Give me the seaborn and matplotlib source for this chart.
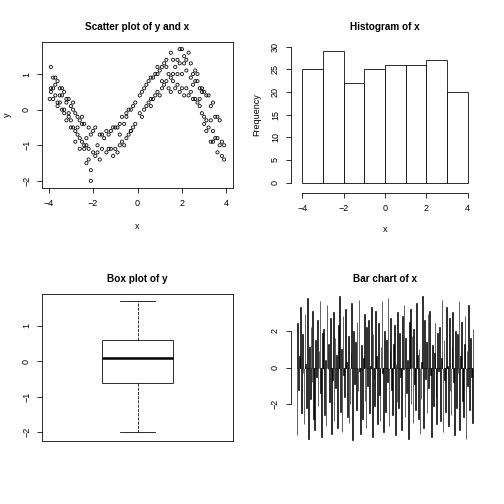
import matplotlib
matplotlib.use("Agg")
import matplotlib.pyplot as plt
import seaborn as sns
import numpy as np
import pandas as pd

x = [-3.7,2.4,-1.2,0.6,3.3,-2.5,1.8,-0.3,-3.1,2.9,
0.2,-2.2,3.8,-3.9,1.1,-1.7,2.2,-0.8,3.1,-2.8,
-3.4,1.5,-0.5,2.6,-2.1,0.9,3.6,-1.4,-3.8,1.9,
2.1,-2.6,0.4,-3.2,3.4,-0.1,1.3,-1.9,2.7,-3.6,
-0.7,3.0,-2.9,1.6,-1.1,0.7,-3.3,2.3,3.9,-2.4,
1.0,-3.5,2.8,-0.4,-1.6,3.2,0.3,-2.7,1.7,-3.0,
-2.0,0.8,3.5,-3.95,2.0,-0.9,1.4,-2.3,2.5,-1.3,
3.7,-0.2,-3.6,1.2,-2.8,0.5,2.9,-1.8,-3.3,2.2,
-1.0,2.6,-2.5,0.1,3.3,-3.8,1.8,-0.6,-2.1,3.1,
0.6,-3.1,2.4,-1.5,-2.9,1.1,3.6,-0.3,-3.5,2.0,
-2.4,1.5,-0.8,3.8,-3.2,0.9,2.7,-1.2,-2.6,1.3,
2.3,-3.7,0.2,-1.9,3.0,-2.2,1.9,-0.5,-3.4,2.8,
-0.1,3.4,-2.7,1.6,-1.4,0.4,-3.9,2.5,3.2,-2.0,
1.7,-3.0,2.1,-0.9,-2.3,3.5,0.7,-2.8,1.0,-3.6,
-1.7,0.3,3.9,-3.3,2.6,-0.6,1.4,-2.5,2.9,-1.1,
3.1,-0.4,-3.8,1.2,-2.1,0.8,2.4,-1.6,-3.1,1.9,
-0.2,2.2,-2.9,0.5,3.7,-3.5,1.5,-0.7,-2.4,3.3,
0.1,-3.2,2.7,-1.3,-2.6,1.1,3.0,-0.8,-3.7,2.0,
-2.2,1.8,-0.3,3.6,-3.4,0.6,2.5,-1.8,-2.7,1.3,
2.8,-3.9,0.9,-1.0,3.4,-2.3,1.6,-0.5,-3.0,2.1]

y = [0.7,0.9,-1.1,0.3,0.1,-0.4,1.4,-0.6,-0.2,0.6,
0.5,-1.4,-1.3,1.2,0.6,-0.7,1.1,-1.0,-0.3,-0.1,
0.4,1.6,-0.2,0.8,-2.0,1.0,-0.8,-1.2,0.3,0.5,
1.3,-0.8,0.1,0.3,-0.6,0.2,1.2,-0.5,0.2,0.8,
-0.9,0.5,0.2,0.8,-1.3,0.9,-0.1,1.6,-1.0,-1.1,
1.1,0.6,0.1,-0.7,-1.1,0.4,0.6,-0.2,1.2,0.1,
-0.6,0.4,-0.2,0.3,1.7,-1.2,1.0,-1.5,1.0,-0.7,
-1.0,0.1,0.1,0.7,-0.6,0.8,-0.1,-1.0,0.5,0.6,
-0.5,0.3,-0.9,-0.1,-0.3,0.9,0.7,-0.4,-1.7,0.4,
0.9,0.3,1.3,-0.8,-0.5,1.2,-0.2,0.0,0.2,1.0,
-0.4,0.9,-0.4,-0.9,-0.3,0.5,0.8,-0.6,-1.1,1.4,
0.4,0.4,-0.2,-1.3,-0.2,-0.5,1.3,-0.8,0.6,0.6,
-0.4,0.2,-0.7,1.4,-0.6,0.7,0.5,0.3,-0.5,-1.2,
0.6,-0.3,0.4,-0.5,-1.0,-0.8,0.3,-0.9,0.4,0.2,
-1.4,0.0,-1.4,0.0,1.1,-1.0,0.6,-0.2,0.5,-0.5,
-0.6,0.0,0.6,1.3,-0.7,1.0,0.5,-0.7,-0.1,1.7,
-0.5,1.4,0.0,0.2,-0.3,0.4,0.5,-0.2,-1.0,-0.9,
0.4,0.2,1.0,-1.1,-0.3,0.8,-0.4,-0.7,0.9,0.6,
-1.1,1.0,-0.6,-1.2,0.0,0.1,0.7,-1.2,-0.5,0.8,
0.3,0.6,1.2,-1.1,-0.9,-0.8,1.0,-0.1,-0.5,1.5]

hist_edges = [-4, -3, -2, -1, 0, 1, 2, 3, 4]
hist_counts = [25, 29, 22, 25, 26, 26, 27, 20]

W = 504
fig = plt.figure(figsize=(7, 7), dpi=72)
plt.rcParams['font.family'] = ['Liberation Sans', 'DejaVu Sans']

def ax_px(l, t, r, b):
    return fig.add_axes([l / W, 1 - b / W, (r - l) / W, (b - t) / W])

def style(ax):
    ax.tick_params(labelsize=9, length=5, direction='out', width=0.8, pad=6)
    for lab in ax.get_yticklabels():
        lab.set_rotation(90); lab.set_va('center')

# Scatter
ax1 = ax_px(42, 42, 233, 188)
sns.scatterplot(x=x, y=y, ax=ax1, marker='o', facecolor='none', edgecolor='black', s=10, linewidth=0.8)
ax1.set_xlim(-4.3, 4.3); ax1.set_ylim(-2.2, 1.9)
ax1.set_xticks([-4, -2, 0, 2, 4]); ax1.set_yticks([-2, -1, 0, 1])
ax1.set_xlabel('x', fontsize=9, labelpad=14); ax1.set_ylabel('y', fontsize=9, labelpad=10)
ax1.set_title('Scatter plot of y and x', fontsize=10, fontweight='bold', pad=12)
style(ax1)

# Histogram
ax2 = ax_px(296, 42, 474, 188)
ax2.bar(hist_edges[:-1], hist_counts, width=1, align='edge', color='white', edgecolor='black', linewidth=0.8)
ax2.set_xlim(-4.3, 4.3); ax2.set_ylim(-1.2, 31)
ax2.set_xticks([-4, -2, 0, 2, 4]); ax2.set_yticks([0, 5, 10, 15, 20, 25, 30])
for s in ['top', 'right']: ax2.spines[s].set_visible(False)
ax2.spines['bottom'].set_bounds(-4, 4); ax2.spines['left'].set_bounds(0, 30)
ax2.spines['bottom'].set_position(('outward', 5)); ax2.spines['left'].set_position(('outward', 5))
ax2.set_xlabel('x', fontsize=9, labelpad=12); ax2.set_ylabel('Frequency', fontsize=9, labelpad=10)
ax2.set_title('Histogram of x', fontsize=10, fontweight='bold', pad=12)
style(ax2)

# Box plot
ax3 = ax_px(42, 294, 233, 441)
sns.boxplot(y=y, ax=ax3, width=0.45, color='white', linecolor='black', whis=3,
            medianprops=dict(linewidth=2.5), whiskerprops=dict(linestyle='--', linewidth=0.8),
            boxprops=dict(linewidth=0.8), capprops=dict(linewidth=0.8))
ax3.set_xlim(-0.6, 0.6); ax3.set_ylim(-2.25, 1.9)
ax3.set_xticks([]); ax3.set_yticks([-2, -1, 0, 1]); ax3.set_ylabel('')
ax3.set_title('Box plot of y', fontsize=10, fontweight='bold', pad=12)
style(ax3)

# Bar chart
ax4 = ax_px(296, 294, 474, 441)
ax4.bar(np.arange(len(x)), x, width=0.8, color='black', edgecolor='black', linewidth=0.6)
ax4.set_xlim(-1, len(x)); ax4.set_ylim(-4.0, 4.0)
ax4.set_xticks([]); ax4.set_yticks([-2, 0, 2])
for s in ['top', 'right', 'bottom']: ax4.spines[s].set_visible(False)
ax4.spines['left'].set_bounds(-2, 2); ax4.spines['left'].set_position(('outward', 5))
ax4.set_title('Bar chart of x', fontsize=10, fontweight='bold', pad=12)
style(ax4)

fig.savefig('out.png', dpi=72)
